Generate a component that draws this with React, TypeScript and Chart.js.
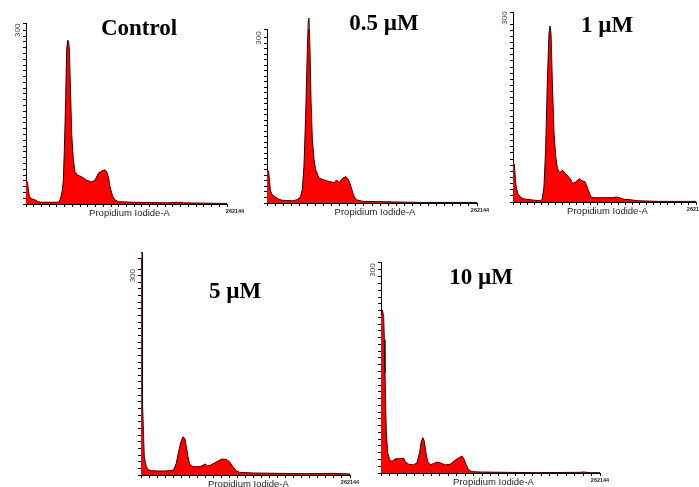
import React, { useEffect, useRef } from 'react';
import { Chart, registerables } from 'chart.js';

Chart.register(...registerables);

// ---------------- data ----------------
const panelTitles = ['Control', '0.5 µM', '1 µM', '5 µM', '10 µM'];
const xAxisTitle = 'Propidium Iodide-A';
const xEndLabel = '262144';
const xRangeMax = 262144;
const yLabelValue = 300;
const yRangeMax = [312.6, 316.3, 309.8, 326.6, 311.8];

const controlX = [0, 1740, 4350, 7390, 11740, 16080, 20430, 42170, 44340, 45640, 47380, 48690, 49990, 51730, 53030, 54340, 55640, 56510, 57820, 59560, 61730, 63900, 66940, 72600, 79110, 85640, 89980, 94330, 98680, 103020, 105200, 107370, 109540, 113020, 116060, 120410, 139970, 183440, 203000, 205180, 253000, 262144];
const controlY = [41, 38, 13, 9, 7, 4, 3, 3, 7, 13, 24, 41, 93, 179, 266, 283, 280, 266, 208, 122, 76, 56, 50, 47, 41, 38, 41, 53, 57, 59, 56, 47, 30, 13, 7, 4, 3, 2, 3, 2, 1, 1];

const dose05X = [0, 840, 2100, 4190, 6290, 10490, 14680, 18870, 31460, 37750, 41940, 44040, 46130, 48230, 50330, 51590, 52430, 53680, 54940, 56620, 58720, 60810, 65010, 71300, 77590, 83880, 86820, 90170, 94370, 98560, 101910, 104850, 107790, 111140, 119530, 157280, 190830, 257930, 262144];
const dose05Y = [58, 60, 57, 24, 15, 11, 7, 5, 4, 6, 12, 24, 67, 157, 278, 333, 336, 278, 187, 115, 79, 60, 45, 42, 39, 37, 42, 37, 45, 48, 42, 30, 15, 6, 3, 2, 1, 1, 1];

const dose1X = [0, 1930, 3860, 6750, 10600, 15420, 29880, 39520, 41930, 44340, 46740, 49150, 51560, 53010, 54450, 56380, 58790, 61200, 63610, 66020, 68430, 70840, 73250, 77110, 81920, 85300, 90120, 94940, 98310, 103130, 106980, 111800, 116620, 126260, 135900, 143130, 147950, 152770, 159990, 164810, 179270, 208180, 256370, 262144];
const dose1Y = [64, 62, 30, 14, 8, 5, 3, 2, 5, 25, 85, 194, 275, 287, 275, 194, 112, 74, 55, 49, 49, 52, 49, 44, 38, 30, 33, 38, 35, 33, 22, 8, 7, 7, 7, 7, 8, 7, 4, 4, 2, 1, 1, 1];

const dose5X = [0, 1300, 1600, 2200, 3000, 4130, 6630, 9560, 13730, 20000, 28350, 36700, 40870, 44210, 47140, 50060, 52560, 55070, 57570, 59660, 61750, 65920, 74270, 80530, 83450, 87630, 95150, 101410, 106840, 111010, 115190, 119370, 123540, 141070, 170300, 207880, 241270, 262144];
const dose5Y = [335, 335, 150, 110, 65, 27, 12.5, 7.5, 6.5, 6, 6, 6.5, 7.5, 17.5, 35, 50, 57.5, 55, 37.5, 22.5, 15, 12.5, 12.5, 16.5, 13.5, 15, 20, 24, 23.5, 20, 12.5, 6.5, 4, 3, 2.5, 2, 2.5, 1.5];

const dose10X = [0, 1590, 3190, 3980, 4780, 5580, 6370, 7970, 10360, 13150, 17130, 23110, 27090, 29080, 33070, 39040, 43030, 46220, 48210, 50200, 51790, 53780, 55780, 58960, 62950, 66930, 70920, 76890, 82870, 88840, 92820, 96810, 98800, 101990, 104780, 108760, 118720, 146610, 186450, 238240, 242220, 250190, 262144];
const dose10Y = [234, 241, 231, 197, 148, 98, 59, 30, 20, 17, 21, 21, 22, 17, 13, 12, 15, 30, 47, 52, 47, 30, 17, 12, 14, 16, 15, 12, 13, 19, 22, 25, 22, 12, 5, 2, 1.5, 1, 0.5, 1, 1.5, 0.5, 0.5];

const seriesX = [controlX, dose05X, dose1X, dose5X, dose10X];
const seriesY = [controlY, dose05Y, dose1Y, dose5Y, dose10Y];

// ---------------- layout ----------------
const PAGE_W = 699;
const PAGE_H = 487;
const AXIS_SIZE = 10;

const layouts = [
  { left: 26, right: 227, top: 23, bottom: 204, titleX: 139, titleY: 35, endDx: 8 },
  { left: 267, right: 477, top: 29, bottom: 203, titleX: 384, titleY: 30, endDx: 3 },
  { left: 513, right: 696, top: 12, bottom: 202, titleX: 607, titleY: 32, endDx: 0 },
  { left: 141, right: 350, top: 258, bottom: 475, titleX: 235, titleY: 298, endDx: 0 },
  { left: 381, right: 600, top: 262, bottom: 473, titleX: 481, titleY: 284, endDx: 0 },
];

const panelTextPlugin = {
  id: 'panelText',
  afterDraw(chart: any, _args: any, opts: any) {
    const { ctx, chartArea: a, scales } = chart;
    const ys = scales.y;
    const xs = scales.x;
    ctx.save();
    ctx.fillStyle = '#444';
    ctx.font = '8px "Liberation Sans", Arial, sans-serif';
    ctx.textAlign = 'center';
    ctx.textBaseline = 'middle';
    ctx.translate(a.left - 8, ys.getPixelForValue(yLabelValue));
    ctx.rotate(-Math.PI / 2);
    ctx.fillText(String(yLabelValue), 0, 0);
    ctx.restore();

    ctx.save();
    ctx.fillStyle = '#222';
    ctx.textAlign = 'center';
    ctx.font = '9.5px "Liberation Sans", Arial, sans-serif';
    ctx.textBaseline = 'alphabetic';
    ctx.fillText(xAxisTitle, (a.left + a.right) / 2 + 3, a.bottom + 12);
    ctx.font = 'bold 5.5px "Liberation Sans", Arial, sans-serif';
    ctx.textBaseline = 'middle';
    ctx.fillText(xEndLabel, xs.getPixelForValue(xRangeMax) + opts.endDx, a.bottom + 7.5);
    ctx.fillStyle = '#000';
    ctx.font = 'bold 23px "Liberation Serif", "Times New Roman", serif';
    ctx.textBaseline = 'alphabetic';
    ctx.fillText(opts.title, opts.titleX, opts.titleY);
    ctx.restore();
  },
};

function Panel({ index }: { index: number }) {
  const ref = useRef<HTMLCanvasElement | null>(null);
  useEffect(() => {
    const canvas = ref.current;
    if (!canvas) return;
    const L = layouts[index];
    const xs = seriesX[index];
    const yv = seriesY[index];
    const axisCommon = {
      grid: {
        display: true,
        drawOnChartArea: false,
        drawTicks: true,
        tickLength: 3,
        color: '#000',
        lineWidth: 1,
      },
      border: { display: true, color: '#000', width: 1 },
    };
    const chart = new Chart(canvas, {
      type: 'line',
      data: {
        datasets: [
          {
            data: xs.map((x, i) => ({ x, y: yv[i] })),
            borderColor: '#2a0000',
            borderWidth: 1,
            backgroundColor: '#ff0000',
            fill: 'origin',
            pointRadius: 0,
            tension: 0,
            clip: false as any,
          },
        ],
      },
      options: {
        responsive: false,
        animation: false,
        events: [],
        layout: {
          autoPadding: false,
          padding: {
            left: L.left - AXIS_SIZE,
            right: PAGE_W - L.right,
            top: L.top,
            bottom: PAGE_H - L.bottom - AXIS_SIZE,
          },
        },
        plugins: {
          legend: { display: false },
          tooltip: { enabled: false },
          panelText: {
            title: panelTitles[index],
            titleX: L.titleX,
            titleY: L.titleY,
            endDx: L.endDx,
          },
        } as any,
        scales: {
          x: {
            type: 'linear',
            min: 0,
            max: xRangeMax,
            ticks: { display: false, stepSize: 10000, autoSkip: false },
            ...axisCommon,
            afterFit: (s: any) => {
              s.height = AXIS_SIZE;
              s.paddingLeft = 0;
              s.paddingRight = 0;
            },
          },
          y: {
            type: 'linear',
            min: 0,
            max: yRangeMax[index],
            ticks: { display: false, stepSize: 10, autoSkip: false },
            ...axisCommon,
            afterFit: (s: any) => {
              s.width = AXIS_SIZE;
              s.paddingTop = 0;
              s.paddingBottom = 0;
            },
          },
        },
      } as any,
      plugins: [panelTextPlugin],
    });
    return () => chart.destroy();
  }, [index]);
  return (
    <canvas
      ref={ref}
      width={PAGE_W}
      height={PAGE_H}
      style={{ position: 'absolute', left: 0, top: 0, width: PAGE_W, height: PAGE_H }}
    />
  );
}

export default function App() {
  return (
    <div
      style={{
        position: 'absolute',
        left: 0,
        top: 0,
        width: PAGE_W,
        height: PAGE_H,
        background: '#fff',
        overflow: 'hidden',
      }}
    >
      {panelTitles.map((_, i) => (
        <Panel key={i} index={i} />
      ))}
    </div>
  );
}
